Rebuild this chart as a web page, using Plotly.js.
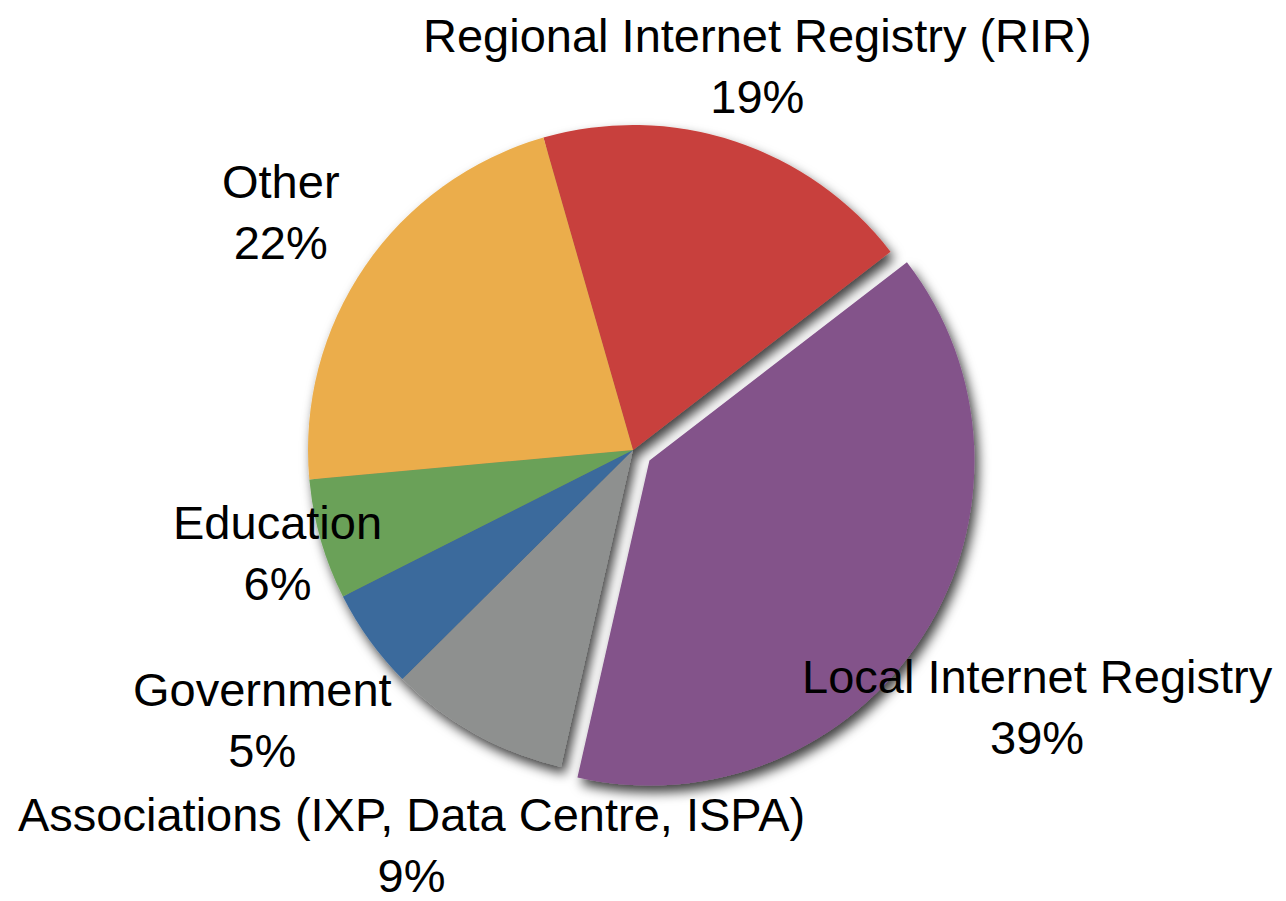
<!DOCTYPE html>
<html>
<head>
<meta charset="utf-8">
<script src="https://cdn.plot.ly/plotly-3.0.1.min.js"></script>
<style>
  html, body { margin: 0; padding: 0; background: #ffffff; }
  #chart { width: 1286px; height: 901px; }
</style>
</head>
<body>
<div id="chart"></div>
<script>
// ---- data ----
const categories = [
  "Regional Internet Registry (RIR)",
  "Local Internet Registry",
  "Associations (IXP, Data Centre, ISPA)",
  "Government",
  "Education",
  "Other"
];
const shares = [19, 39, 9, 5, 6, 22];

// ---- styles / positions ----
const sliceColors = ["#C8413C", "#83528A", "#8E908F", "#3B6A9C", "#6BA159", "#EBAD4B"];
const slicePull = [0, 0.06, 0, 0, 0, 0];
const labelPxX = [757, 1037, 411, 262, 277, 281];
const labelPxY = [66, 707, 845, 720, 553, 212];

const W = 1286, H = 901;

const trace = {
  type: "pie",
  labels: categories,
  values: shares,
  sort: false,
  direction: "clockwise",
  rotation: -16,
  pull: slicePull,
  marker: { colors: sliceColors, line: { width: 0 } },
  textinfo: "none",
  hoverinfo: "label+percent",
  showlegend: false,
  domain: { x: [288.5 / W, 977.5 / W], y: [1 - 794.5 / H, 1 - 105.5 / H] }
};

const annotations = categories.map((c, i) => ({
  text: c + "<br>" + shares[i] + "%",
  x: labelPxX[i] / W,
  y: 1 - labelPxY[i] / H,
  xref: "paper", yref: "paper",
  xanchor: "center", yanchor: "middle",
  showarrow: false,
  align: "center",
  borderpad: 0,
  font: { family: "Liberation Sans, Arial, Helvetica, sans-serif", size: 47, color: "#000000" }
}));

const layout = {
  width: W, height: H,
  margin: { l: 0, r: 0, t: 0, b: 0 },
  paper_bgcolor: "#ffffff",
  plot_bgcolor: "#ffffff",
  showlegend: false,
  annotations: annotations
};

Plotly.newPlot("chart", [trace], layout, { displayModeBar: false, staticPlot: true }).then(() => {
  const svg = document.querySelector("#chart .main-svg");
  const NS = "http://www.w3.org/2000/svg";
  let defs = svg.querySelector("defs");
  if (!defs) { defs = document.createElementNS(NS, "defs"); svg.insertBefore(defs, svg.firstChild); }
  const f = document.createElementNS(NS, "filter");
  f.setAttribute("id", "pieShadow");
  f.setAttribute("x", "-10%"); f.setAttribute("y", "-10%");
  f.setAttribute("width", "125%"); f.setAttribute("height", "125%");
  const ds = document.createElementNS(NS, "feDropShadow");
  ds.setAttribute("dx", "4"); ds.setAttribute("dy", "7");
  ds.setAttribute("stdDeviation", "6");
  ds.setAttribute("flood-color", "#000000");
  ds.setAttribute("flood-opacity", "0.75");
  f.appendChild(ds);
  defs.appendChild(f);
  document.querySelectorAll("#chart .pielayer g.trace").forEach(g => g.setAttribute("filter", "url(#pieShadow)"));
});
</script>
</body>
</html>
